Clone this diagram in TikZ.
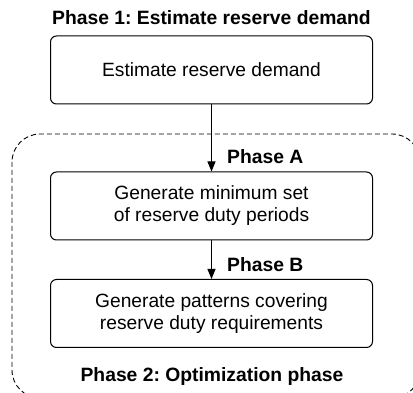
\documentclass[tikz,border=0pt]{standalone}
\usepackage{fontspec}
\setmainfont{Liberation Sans}
\usetikzlibrary{arrows.meta}
\tikzset{
  stagebox/.style={draw, line width=1pt, rounded corners=6pt,
    minimum width=322pt, minimum height=68pt, align=center,
    font=\fontsize{19.2}{22}\selectfont},
  phaselabel/.style={inner sep=0pt, font=\fontsize{19.3}{22}\selectfont\bfseries},
  flow/.style={line width=1pt, -{Triangle[length=10pt,width=8pt]}}
}
\begin{document}
\frenchspacing
\begin{tikzpicture}[x=1pt,y=1pt]
      \clip (0,0) rectangle (413,-393);
      \draw [line width=0.9pt, dash pattern=on 5pt off 3pt, rounded corners=28pt]
        (12,-134) rectangle (420,-398);
      \node (title1) at (211.5,-18) [phaselabel] {Phase 1: Estimate reserve demand};
      \node (demand) at (211.5,-70) [stagebox] {Estimate reserve demand};
      \node (duty) at (211.5,-206) [stagebox] {Generate minimum set\\of reserve duty periods};
      \node (patterns) at (211.5,-313.5) [stagebox] {Generate patterns covering\\reserve duty requirements};
      \draw [flow] (demand.south) -- (duty.north);
      \draw [flow] (duty.south) -- (patterns.north);
      \node (phaseA) at (227,-157) [phaselabel, anchor=west] {Phase A};
      \node (phaseB) at (227,-265) [phaselabel, anchor=west] {Phase B};
      \node (title2) at (212,-377) [phaselabel] {Phase 2: Optimization phase};
    \end{tikzpicture}
\end{document}
